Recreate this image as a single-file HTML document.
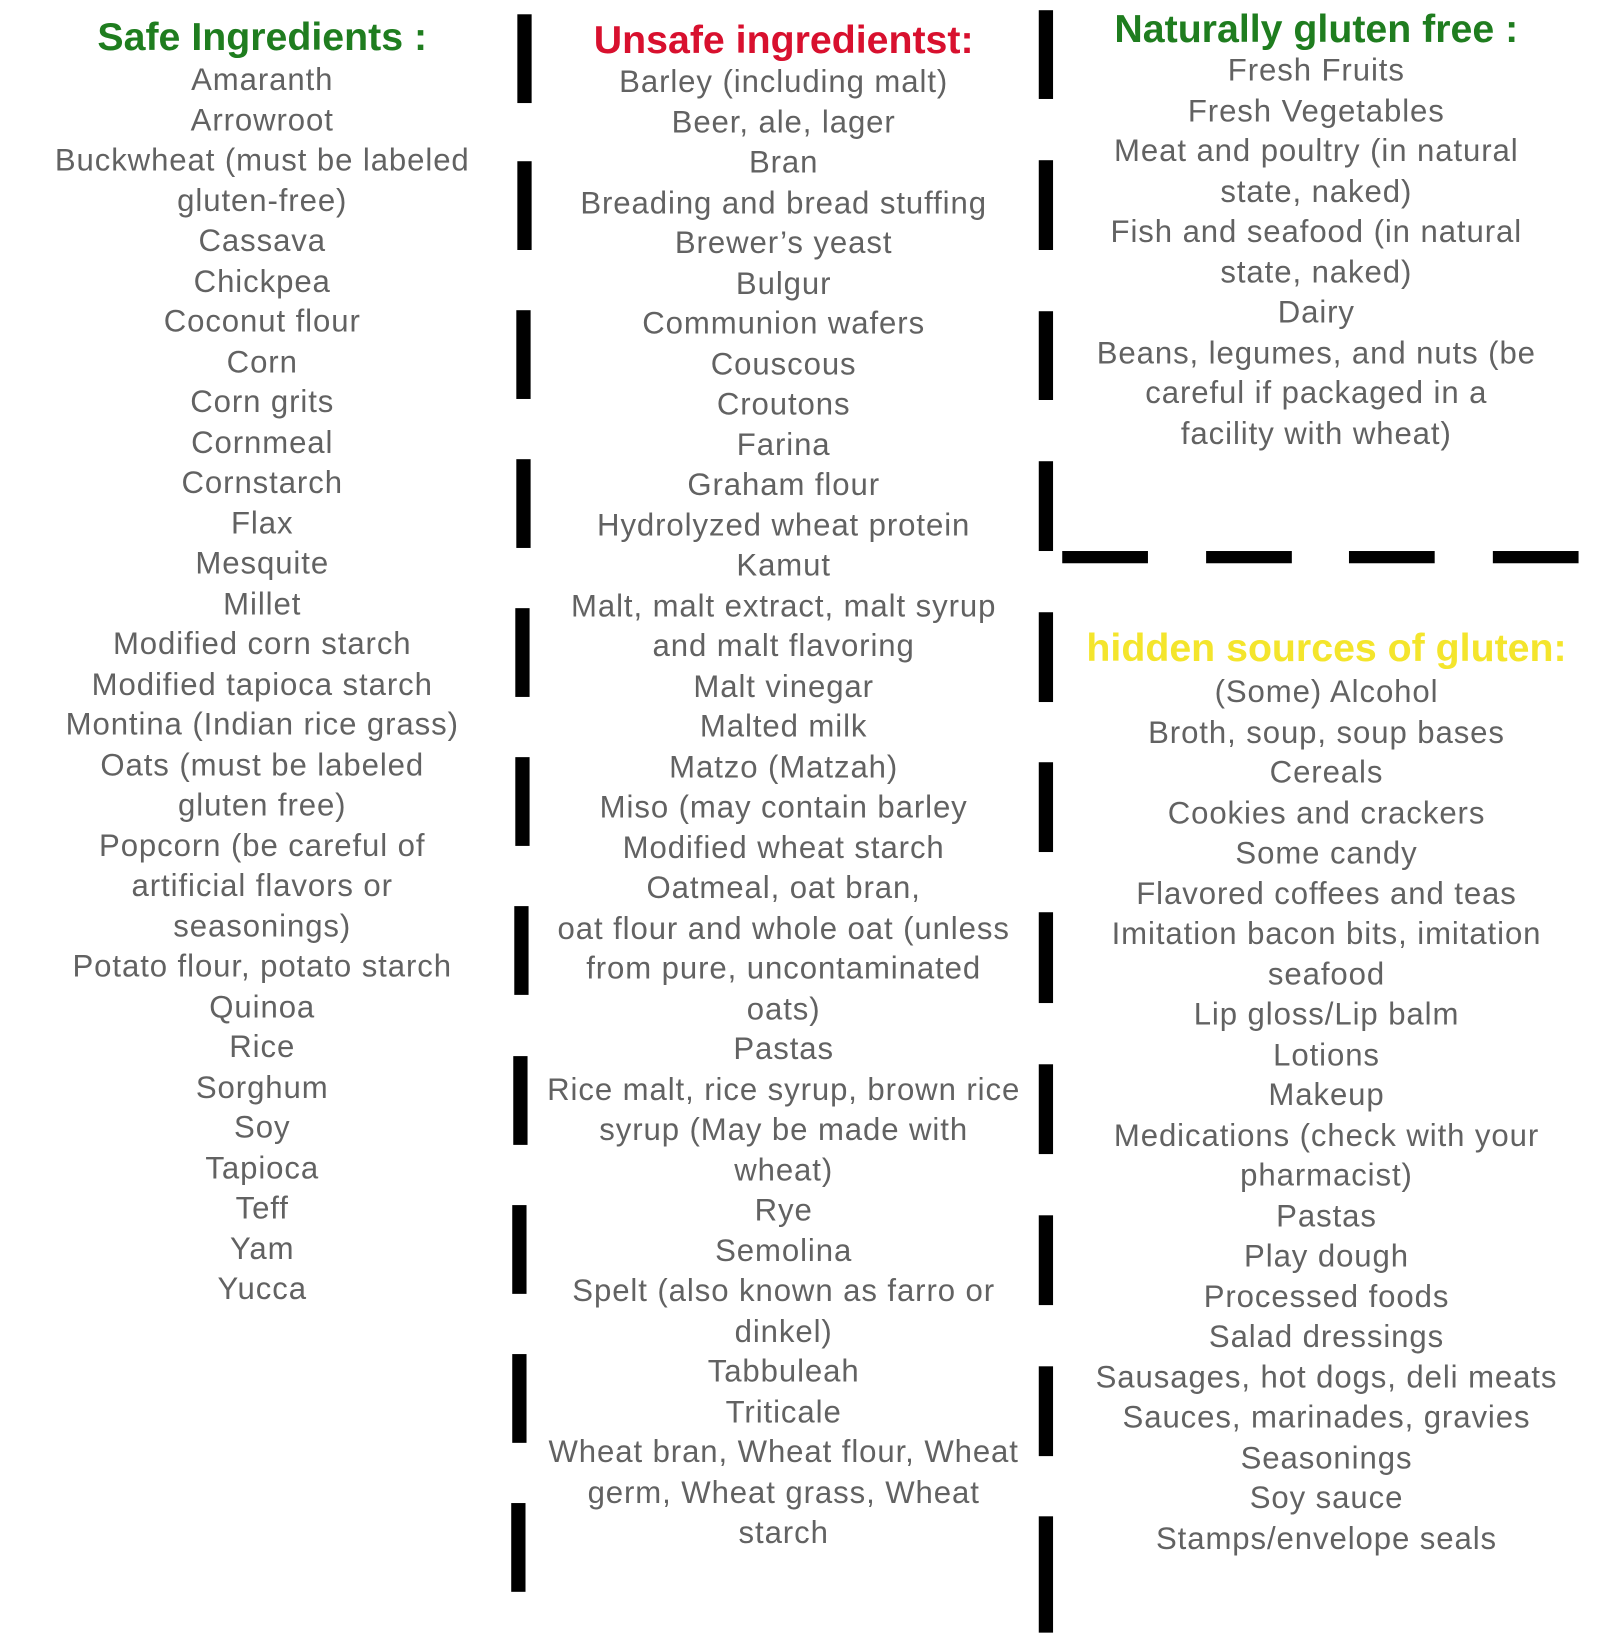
<!DOCTYPE html>
<html><head><meta charset="utf-8"><style>
body{margin:0;width:1600px;height:1600px;background:#fff;position:relative;overflow:hidden;font-family:"Liberation Sans",Arial,sans-serif}
#w{position:absolute;left:0;top:0;width:1568px;height:1568px;transform:scale(1.0204);transform-origin:0 0}
.col{position:absolute;text-align:center;color:#626262;font-size:30.5px;letter-spacing:0.9px;line-height:39.5px;white-space:nowrap}
.t{position:absolute;text-align:center;font-weight:bold;font-size:38.5px;line-height:40px;white-space:nowrap}
.d{position:absolute;background:#000}
</style></head><body><div id="w">
<div class="t" style="left:0;width:514px;top:17px;color:#1f7d1f">Safe Ingredients :</div>
<div class="col" style="left:0;width:514px;top:59px">Amaranth<br>Arrowroot<br>Buckwheat (must be labeled<br>gluten-free)<br>Cassava<br>Chickpea<br>Coconut flour<br>Corn<br>Corn grits<br>Cornmeal<br>Cornstarch<br>Flax<br>Mesquite<br>Millet<br>Modified corn starch<br>Modified tapioca starch<br>Montina (Indian rice grass)<br>Oats (must be labeled<br>gluten free)<br>Popcorn (be careful of<br>artificial flavors or<br>seasonings)<br>Potato flour, potato starch<br>Quinoa<br>Rice<br>Sorghum<br>Soy<br>Tapioca<br>Teff<br>Yam<br>Yucca</div>

<div class="t" style="left:536px;width:464px;top:20px;color:#d8102e">Unsafe ingredientst:</div>
<div class="col" style="left:536px;width:464px;top:61px">Barley (including malt)<br>Beer, ale, lager<br>Bran<br>Breading and bread stuffing<br>Brewer’s yeast<br>Bulgur<br>Communion wafers<br>Couscous<br>Croutons<br>Farina<br>Graham flour<br>Hydrolyzed wheat protein<br>Kamut<br>Malt, malt extract, malt syrup<br>and malt flavoring<br>Malt vinegar<br>Malted milk<br>Matzo (Matzah)<br>Miso (may contain barley<br>Modified wheat starch<br>Oatmeal, oat bran,<br>oat flour and whole oat (unless<br>from pure, uncontaminated<br>oats)<br>Pastas<br>Rice malt, rice syrup, brown rice<br>syrup (May be made with<br>wheat)<br>Rye<br>Semolina<br>Spelt (also known as farro or<br>dinkel)<br>Tabbuleah<br>Triticale<br>Wheat bran, Wheat flour, Wheat<br>germ, Wheat grass, Wheat<br>starch</div>

<div class="t" style="left:1040px;width:500px;top:9px;color:#1f7d1f">Naturally gluten free :</div>
<div class="col" style="left:1040px;width:500px;top:50px">Fresh Fruits<br>Fresh Vegetables<br>Meat and poultry (in natural<br>state, naked)<br>Fish and seafood (in natural<br>state, naked)<br>Dairy<br>Beans, legumes, and nuts (be<br>careful if packaged in a<br>facility with wheat)</div>

<div class="t" style="left:1050px;width:500px;top:616px;color:#f4e52c">hidden sources of gluten:</div>
<div class="col" style="left:1050px;width:500px;top:659px">(Some) Alcohol<br>Broth, soup, soup bases<br>Cereals<br>Cookies and crackers<br>Some candy<br>Flavored coffees and teas<br>Imitation bacon bits, imitation<br>seafood<br>Lip gloss/Lip balm<br>Lotions<br>Makeup<br>Medications (check with your<br>pharmacist)<br>Pastas<br>Play dough<br>Processed foods<br>Salad dressings<br>Sausages, hot dogs, deli meats<br>Sauces, marinades, gravies<br>Seasonings<br>Soy sauce<br>Stamps/envelope seals</div>

<div class="d" style="left:507px;top:14px;width:14px;height:87px"></div>
<div class="d" style="left:507px;top:158px;width:14px;height:87px"></div>
<div class="d" style="left:506px;top:304px;width:14px;height:87px"></div>
<div class="d" style="left:506px;top:450px;width:14px;height:87px"></div>
<div class="d" style="left:505px;top:596px;width:14px;height:87px"></div>
<div class="d" style="left:505px;top:742px;width:14px;height:87px"></div>
<div class="d" style="left:504px;top:888px;width:14px;height:87px"></div>
<div class="d" style="left:503px;top:1035px;width:14px;height:87px"></div>
<div class="d" style="left:502px;top:1181px;width:14px;height:87px"></div>
<div class="d" style="left:502px;top:1327px;width:14px;height:87px"></div>
<div class="d" style="left:501px;top:1473px;width:14px;height:87px"></div>

<div class="d" style="left:1018px;top:10px;width:14px;height:87px"></div>
<div class="d" style="left:1018px;top:157px;width:14px;height:88px"></div>
<div class="d" style="left:1018px;top:305px;width:14px;height:87px"></div>
<div class="d" style="left:1018px;top:452px;width:14px;height:88px"></div>
<div class="d" style="left:1018px;top:600px;width:14px;height:88px"></div>
<div class="d" style="left:1018px;top:747px;width:14px;height:88px"></div>
<div class="d" style="left:1018px;top:894px;width:14px;height:89px"></div>
<div class="d" style="left:1018px;top:1043px;width:14px;height:88px"></div>
<div class="d" style="left:1018px;top:1191px;width:14px;height:88px"></div>
<div class="d" style="left:1018px;top:1339px;width:14px;height:88px"></div>
<div class="d" style="left:1018px;top:1486px;width:14px;height:114px"></div>

<div class="d" style="left:1041px;top:540px;width:84px;height:12px"></div>
<div class="d" style="left:1182px;top:540px;width:84px;height:12px"></div>
<div class="d" style="left:1322px;top:540px;width:84px;height:12px"></div>
<div class="d" style="left:1463px;top:540px;width:84px;height:12px"></div>
</div></body></html>
